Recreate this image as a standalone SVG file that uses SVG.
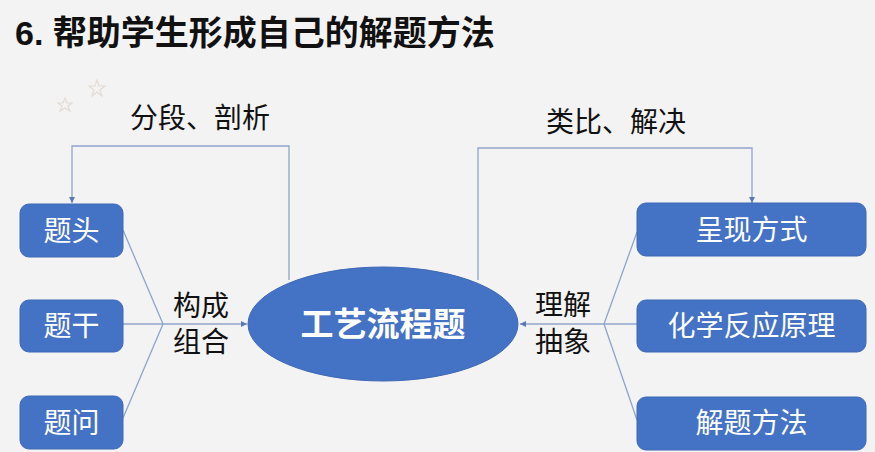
<svg xmlns="http://www.w3.org/2000/svg" width="875" height="452" viewBox="0 0 875 452">
<style>
.box{fill:#4472c4;stroke:#3f68b5;stroke-width:1}
.bt{fill:#ffffff;font-family:"Liberation Sans","Noto Sans CJK SC",sans-serif;font-size:28px;text-anchor:middle;dominant-baseline:central}
.lbl{fill:#111111;font-family:"Liberation Sans","Noto Sans CJK SC",sans-serif;font-size:28px;text-anchor:middle;dominant-baseline:central}
.con{fill:none;stroke:#8fa4cc;stroke-width:1.3}
.star{fill:none;stroke:#e3dcd6;stroke-width:1.2}
</style>
<defs>
<marker id="ah" viewBox="0 0 10 10" refX="10" refY="5" markerWidth="6" markerHeight="6" orient="auto" markerUnits="userSpaceOnUse">
<path d="M0,0 L10,5 L0,10 z" fill="#5a78b8"/>
</marker>
</defs>
<rect x="0" y="0" width="875" height="452" fill="#f3f3f3"/>
<g id="stars">
<polygon class="star" points="97,80 99,86 105,86 100,90 102,96 97,92 92,96 94,90 89,86 95,86"/>
<polygon class="star" points="65,98 67,103 72,103 68,106 70,111 65,108 60,111 62,106 58,103 63,103"/>
</g>
<g id="title">
<text x="15" y="33" font-family="'Liberation Sans','Noto Sans CJK SC',sans-serif" font-size="34" font-weight="bold" fill="#111111" dominant-baseline="central">6. 帮助学生形成自己的解题方法</text>
</g>
<g id="connectors">
<polyline class="con" points="289,280 289,146 72,146 72,203" marker-end="url(#ah)"/>
<polyline class="con" points="478,280 478,148 752,148 752,203" marker-end="url(#ah)"/>
<polyline class="con" points="123,230 163,324 123,418"/>
<line class="con" x1="123" y1="324" x2="163" y2="324"/>
<line class="con" x1="163" y1="324" x2="247" y2="324" marker-end="url(#ah)"/>
<polyline class="con" points="637,232 604,324 637,420"/>
<line class="con" x1="637" y1="324" x2="604" y2="324"/>
<line class="con" x1="604" y1="324" x2="520" y2="324" marker-end="url(#ah)"/>
</g>
<g id="n-titou"><rect class="box" x="20" y="204" width="103" height="53" rx="9"/><text class="bt" x="71.5" y="231">题头</text></g>
<g id="n-tigan"><rect class="box" x="20" y="300" width="103" height="52" rx="9"/><text class="bt" x="71.5" y="326">题干</text></g>
<g id="n-tiwen"><rect class="box" x="20" y="396" width="103" height="53" rx="9"/><text class="bt" x="71.5" y="423">题问</text></g>
<g id="n-center"><ellipse cx="383" cy="324" rx="135" ry="57" fill="#4472c4" stroke="#3f68b5"/><text x="383" y="324" fill="#ffffff" font-family="'Liberation Sans','Noto Sans CJK SC',sans-serif" font-size="33" font-weight="bold" text-anchor="middle" dominant-baseline="central">工艺流程题</text></g>
<g id="n-chengxian"><rect class="box" x="637" y="203" width="229" height="53" rx="9"/><text class="bt" x="751.5" y="230">呈现方式</text></g>
<g id="n-huaxue"><rect class="box" x="637" y="300" width="229" height="52" rx="9"/><text class="bt" x="751.5" y="326">化学反应原理</text></g>
<g id="n-jieti"><rect class="box" x="637" y="397" width="229" height="53" rx="9"/><text class="bt" x="751.5" y="423">解题方法</text></g>
<g id="labels">
<text class="lbl" x="200" y="118">分段、剖析</text>
<text class="lbl" x="616" y="122">类比、解决</text>
<text class="lbl" x="201" y="306">构成</text>
<text class="lbl" x="201" y="342">组合</text>
<text class="lbl" x="563" y="305">理解</text>
<text class="lbl" x="563" y="342">抽象</text>
</g>
</svg>
